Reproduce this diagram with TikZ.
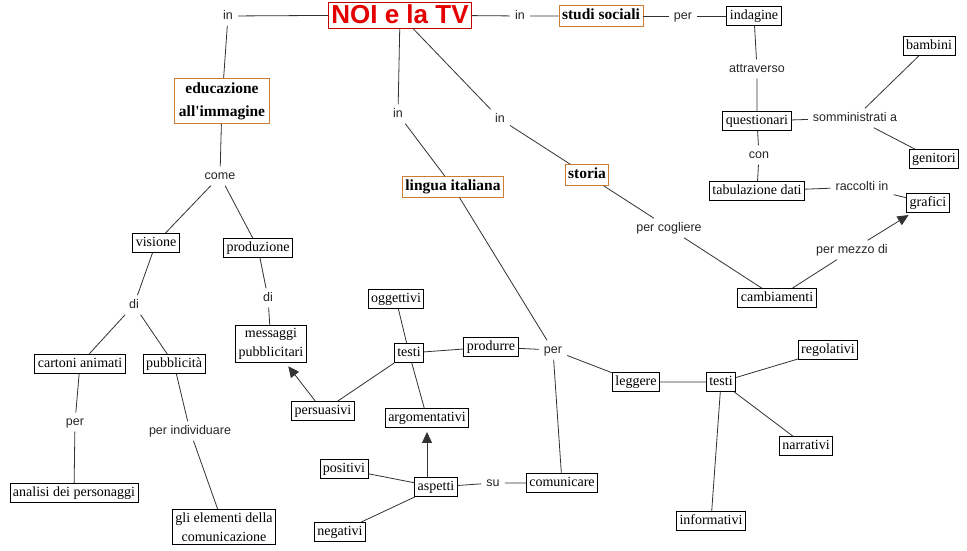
\documentclass[tikz,border=0pt]{standalone}
\usepackage{fontspec}
\setmainfont{Liberation Serif}[Ligatures=TeXOff]
\setsansfont{Liberation Sans}
\usetikzlibrary{arrows.meta}

\definecolor{cLine}{RGB}{50,50,50}
\definecolor{cOrange}{RGB}{205,125,50}
\definecolor{cRed}{RGB}{228,0,0}

\tikzset{
  conceptBase/.style={draw=black, line width=0.9pt, fill=white, align=center,
    font=\fontsize{14}{19}\selectfont, inner xsep=3pt, inner ysep=3pt},
  conceptBox/.style={conceptBase, text height=10pt, text depth=3pt},
  topicBase/.style={conceptBase, draw=cOrange, font=\bfseries\fontsize{15.5}{23}\selectfont},
  topicBox/.style={topicBase, text height=11pt, text depth=3.5pt},
  titleBox/.style={draw=cRed!85!black, line width=0.9pt, fill=white, text=cRed,
    font=\sffamily\bfseries\fontsize{26}{28}\selectfont,
    inner xsep=3pt, inner ysep=3.5pt, text height=18pt, text depth=1pt},
  linkLabel/.style={font=\sffamily\fontsize{12.5}{14}\selectfont, text=black!85,
    inner xsep=5pt, inner ysep=4pt, text height=8.5pt, text depth=2.5pt},
  linkLine/.style={draw=cLine, line width=0.8pt},
  linkArrow/.style={linkLine, -{Triangle[length=11pt,width=10pt]}, shorten >=4pt},
}

\begin{document}
\begin{tikzpicture}[x=1pt, y=-1pt]
  \useasboundingbox[fill=white] (0,0) rectangle (967,550);

  % main concept and the four subjects
  \node[titleBox] (nNoi) at (400,15) {NOI e la TV};
  \node[topicBase, inner xsep=4pt, inner ysep=4pt] (nEdu) at (222,101) {educazione\\all'immagine};
  \node[topicBox] (nStudi) at (601,16) {studi sociali};
  \node[topicBox] (nLingua) at (453,187) {lingua italiana};
  \node[topicBox] (nStoria) at (587,175) {storia};

  % studi sociali
  \node[conceptBox] (nIndagine) at (754,16) {indagine};
  \node[conceptBox] (nQuest) at (757,121) {questionari};
  \node[conceptBox] (nBambini) at (929,46) {bambini};
  \node[conceptBox] (nGenitori) at (934,159) {genitori};
  \node[conceptBox] (nTab) at (757,191) {tabulazione dati};
  \node[conceptBox] (nGrafici) at (928,203) {grafici};
  \node[conceptBox] (nCamb) at (777,298) {cambiamenti};

  % educazione all'immagine
  \node[conceptBox] (nVisione) at (156,243) {visione};
  \node[conceptBox] (nProd) at (258,248) {produzione};
  \node[conceptBase] (nMessaggi) at (271,344) {messaggi\\pubblicitari};
  \node[conceptBox] (nCartoni) at (80,364) {cartoni animati};
  \node[conceptBox] (nPubb) at (174,364) {pubblicità};
  \node[conceptBox] (nAnalisi) at (74,493) {analisi dei personaggi};
  \node[conceptBase] (nElementi) at (224,527) {gli elementi della\\comunicazione};

  % lingua italiana
  \node[conceptBox] (nOgg) at (396,299) {oggettivi};
  \node[conceptBox] (nTestiA) at (409,353) {testi};
  \node[conceptBox] (nProdurre) at (491,347) {produrre};
  \node[conceptBox] (nPers) at (323,411) {persuasivi};
  \node[conceptBox] (nArgom) at (427,418) {argomentativi};
  \node[conceptBox] (nPos) at (344,469) {positivi};
  \node[conceptBox] (nAspetti) at (436,487) {aspetti};
  \node[conceptBox] (nComun) at (562,483) {comunicare};
  \node[conceptBox] (nNeg) at (340,532) {negativi};
  \node[conceptBox] (nLeggere) at (636,382) {leggere};
  \node[conceptBox] (nTestiB) at (721,382) {testi};
  \node[conceptBox] (nRegol) at (828,350) {regolativi};
  \node[conceptBox] (nNarr) at (806,446) {narrativi};
  \node[conceptBox] (nInform) at (711,521) {informativi};

  % link labels
  \node[linkLabel] (lInEdu) at (228,16) {in};
  \node[linkLabel] (lInStudi) at (520,16) {in};
  \node[linkLabel] (lPerInd) at (683,16) {per};
  \node[linkLabel] (lAttr) at (757,69) {attraverso};
  \node[linkLabel] (lSomm) at (855,118) {somministrati a};
  \node[linkLabel] (lCon) at (759,155) {con};
  \node[linkLabel] (lRacc) at (862,187) {raccolti in};
  \node[linkLabel] (lInLing) at (398,114) {in};
  \node[linkLabel] (lInSto) at (500,119) {in};
  \node[linkLabel] (lCogl) at (669,228) {per cogliere};
  \node[linkLabel] (lMezzo) at (852,250) {per mezzo di};
  \node[linkLabel] (lCome) at (220,176) {come};
  \node[linkLabel] (lDiVis) at (134,305) {di};
  \node[linkLabel] (lDiProd) at (268,298) {di};
  \node[linkLabel] (lPerAn) at (75,422) {per};
  \node[linkLabel] (lPerIndiv) at (190,431) {per individuare};
  \node[linkLabel] (lPerLing) at (553,350) {per};
  \node[linkLabel] (lSu) at (493,483) {su};

  % connections
  \draw[linkLine] (nNoi) -- (lInEdu) -- (nEdu);
  \draw[linkLine] (nNoi) -- (lInStudi) -- (nStudi);
  \draw[linkLine] (nNoi) -- (lInLing) -- (nLingua);
  \draw[linkLine] (nNoi) -- (lInSto) -- (nStoria);

  \draw[linkLine] (nStudi) -- (lPerInd) -- (nIndagine);
  \draw[linkLine] (nIndagine) -- (lAttr) -- (nQuest);
  \draw[linkLine] (nQuest) -- (lSomm) -- (nBambini);
  \draw[linkLine] (lSomm) -- (nGenitori);
  \draw[linkLine] (nQuest) -- (lCon) -- (nTab);
  \draw[linkLine] (nTab) -- (lRacc) -- (nGrafici);
  \draw[linkLine] (nStoria) -- (lCogl) -- (nCamb);
  \draw[linkLine] (nCamb) -- (lMezzo);
  \draw[linkArrow] (lMezzo) -- (nGrafici);

  \draw[linkLine] (nEdu) -- (lCome) -- (nVisione);
  \draw[linkLine] (lCome) -- (nProd);
  \draw[linkLine] (nVisione) -- (lDiVis) -- (nCartoni);
  \draw[linkLine] (lDiVis) -- (nPubb);
  \draw[linkLine] (nProd) -- (lDiProd) -- (nMessaggi);
  \draw[linkLine] (nCartoni) -- (lPerAn) -- (nAnalisi);
  \draw[linkLine] (nPubb) -- (lPerIndiv) -- (nElementi);

  \draw[linkLine] (nLingua) -- (lPerLing) -- (nProdurre);
  \draw[linkLine] (lPerLing) -- (nLeggere);
  \draw[linkLine] (lPerLing) -- (nComun);
  \draw[linkLine] (nProdurre) -- (nTestiA) -- (nOgg);
  \draw[linkLine] (nTestiA) -- (nPers);
  \draw[linkLine] (nTestiA) -- (nArgom);
  \draw[linkArrow] (nPers) -- (nMessaggi);
  \draw[linkArrow] (nAspetti.north -| nArgom) -- (nArgom);
  \draw[linkLine] (nComun) -- (lSu) -- (nAspetti);
  \draw[linkLine] (nAspetti) -- (nPos);
  \draw[linkLine] (nAspetti) -- (nNeg);
  \draw[linkLine] (nLeggere) -- (nTestiB) -- (nRegol);
  \draw[linkLine] (nTestiB) -- (nNarr);
  \draw[linkLine] (nTestiB) -- (nInform);
\end{tikzpicture}
\end{document}
